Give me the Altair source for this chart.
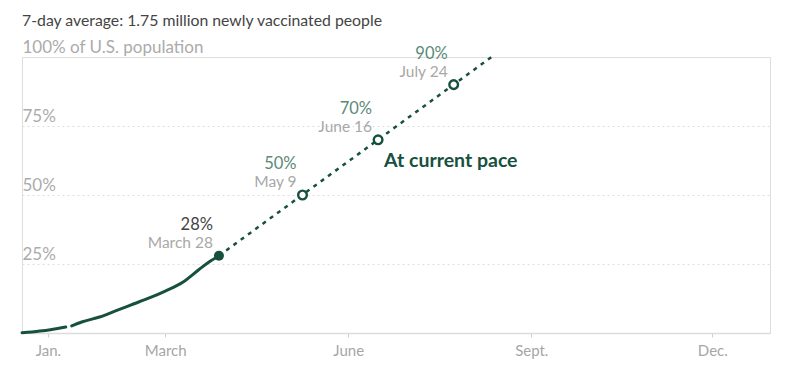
import altair as alt
import pandas as pd

# Actual vaccination share (two segments, a short gap in mid-January)
actual_dates = ["2020-12-19", "2020-12-24", "2020-12-28", "2021-01-03", "2021-01-10",
                "2021-01-13", "2021-01-18", "2021-01-27", "2021-02-05", "2021-02-13",
                "2021-02-21", "2021-03-01", "2021-03-10", "2021-03-18", "2021-03-23",
                "2021-03-28"]
actual_pct = [0.1, 0.4, 0.7, 1.3, 2.2,
              2.6, 4.0, 5.8, 8.3, 10.5,
              12.7, 15.2, 18.5, 23.0, 25.7,
              28.0]
actual_seg = [1, 1, 1, 1, 1,
              2, 2, 2, 2, 2,
              2, 2, 2, 2, 2,
              2]

# Projection at current pace
proj_dates = ["2021-03-28", "2021-08-12"]
proj_pct = [28.0, 100.0]

# Milestones
ms_dates = ["2021-03-28", "2021-05-09", "2021-06-16", "2021-07-24"]
ms_pct = [28, 50, 70, 90]
ms_pct_label = ["28%", "50%", "70%", "90%"]
ms_date_label = ["March 28", "May 9", "June 16", "July 24"]
ms_kind = ["actual", "projected", "projected", "projected"]

# Annotation
note_text = ["At current pace"]
note_date = ["2021-06-19"]
note_pct = [60.0]

x_ticks = ["2021-01-01", "2021-03-01", "2021-06-01", "2021-09-01", "2021-12-01"]
y_ticks = [25, 50, 75, 100]

GREEN = "#17503f"
FONT = "Lato"

actual = pd.DataFrame({"date": actual_dates, "pct": actual_pct, "seg": actual_seg})
proj = pd.DataFrame({"date": proj_dates, "pct": proj_pct})
ms = pd.DataFrame({"date": ms_dates, "pct": ms_pct, "plab": ms_pct_label,
                   "dlab": ms_date_label, "kind": ms_kind})
note = pd.DataFrame({"date": note_date, "pct": note_pct, "text": note_text})

x_scale = alt.Scale(type="utc", domain=["2020-12-19", "2021-12-30"])
y_scale = alt.Scale(domain=[0, 100])

x_enc = alt.X(
    "date:T", scale=x_scale, title=None,
    axis=alt.Axis(
        values=[pd.Timestamp(d).value // 10**6 for d in x_ticks],
        labelExpr="utcmonth(datum.value)==0 ? 'Jan.' : utcmonth(datum.value)==2 ? 'March' : "
                  "utcmonth(datum.value)==5 ? 'June' : utcmonth(datum.value)==8 ? 'Sept.' : 'Dec.'",
        grid=False, domainColor="#dcdcdc", domainWidth=1.5,
        tickColor="#cfcfcf", tickSize=4, labelPadding=6,
        labelColor="#a6a6a6", labelFontSize=15, labelFont=FONT,
    ),
)
y_enc = alt.Y(
    "pct:Q", scale=y_scale, title=None,
    axis=alt.Axis(
        values=y_ticks, domain=False, ticks=False,
        labelExpr="datum.value==100 ? '100% of U.S. population' : datum.value + '%'",
        labelAlign="left", labelPadding=0, labelOffset=-5, labelBaseline="alphabetic",
        labelColor="#ababab", labelFontSize=17, labelFont=FONT, labelLimit=400,
        grid=True, gridColor="#dedede", gridDash=[2, 3], gridWidth=1,
    ),
)

line_actual = alt.Chart(actual).mark_line(
    color=GREEN, strokeWidth=3, strokeCap="round", interpolate="monotone"
).encode(x=x_enc, y=y_enc, detail="seg:N")
line_proj = alt.Chart(proj).mark_line(color=GREEN, strokeWidth=2.5, strokeDash=[4, 5]).encode(
    x="date:T", y="pct:Q"
)
pts_proj = alt.Chart(ms).transform_filter("datum.kind=='projected'").mark_point(
    shape="circle", size=75, filled=True, fill="white", stroke=GREEN, strokeWidth=2.4, opacity=1
).encode(x="date:T", y="pct:Q")
pt_actual = alt.Chart(ms).transform_filter("datum.kind=='actual'").mark_circle(
    size=100, color=GREEN, opacity=1
).encode(x="date:T", y="pct:Q")

plab = alt.Chart(ms).mark_text(align="right", baseline="alphabetic", dx=-6, dy=-26,
                               fontSize=16.5, font=FONT).encode(
    x="date:T", y="pct:Q", text="plab:N",
    color=alt.Color("kind:N", scale=alt.Scale(domain=["actual", "projected"],
                                              range=["#444444", "#5a8a78"]), legend=None),
)
dlab = alt.Chart(ms).mark_text(align="right", baseline="alphabetic", dx=-6, dy=-8,
                               fontSize=15.5, font=FONT, color="#a8a8a8").encode(
    x="date:T", y="pct:Q", text="dlab:N"
)
note_txt = alt.Chart(note).mark_text(align="left", baseline="alphabetic", fontSize=19.5,
                                     fontWeight="bold", font=FONT, color=GREEN).encode(
    x="date:T", y="pct:Q", text="text:N"
)

chart = alt.layer(line_actual, line_proj, pts_proj, pt_actual, plab, dlab, note_txt).properties(
    width=748, height=276,
    padding={"left": 22, "top": 57, "right": 30, "bottom": 45},
    autosize=alt.AutoSizeParams(type="none"),
    title=alt.TitleParams(
        text="7-day average: 1.75 million newly vaccinated people",
        anchor="start", frame="group", orient="top", offset=11, dy=15, baseline="alphabetic",
        fontSize=15.8, font=FONT, fontWeight="normal", color="#444444",
    ),
).configure_view(strokeWidth=0).configure(background="white")

chart.save("out.html", embed_options={"renderer": "svg", "actions": False})
